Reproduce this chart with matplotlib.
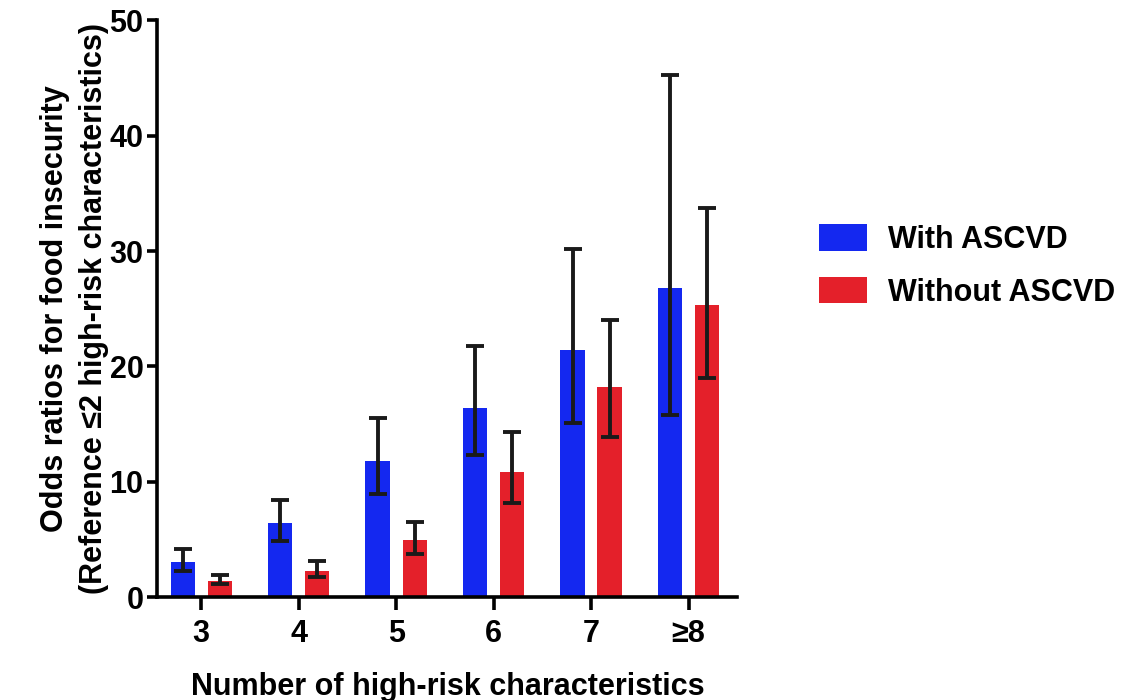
import matplotlib
matplotlib.use('Agg')
import matplotlib.pyplot as plt
import numpy as np

plt.rcParams['font.family'] = ['Liberation Sans', 'DejaVu Sans']
plt.rcParams['font.weight'] = 'bold'

# Data
categories = ['3', '4', '5', '6', '7', '≥8']
with_or = [3.05, 6.4, 11.8, 16.4, 21.4, 26.8]
with_lo = [2.3, 4.9, 8.9, 12.3, 15.1, 15.8]
with_hi = [4.2, 8.45, 15.5, 21.8, 30.2, 45.3]
without_or = [1.4, 2.3, 4.95, 10.85, 18.2, 25.3]
without_lo = [1.1, 1.75, 3.75, 8.2, 13.85, 19.0]
without_hi = [1.95, 3.1, 6.5, 14.35, 24.0, 33.7]

BLUE = '#1428f0'
RED = '#e4202a'
INK = '#1a1a1a'

fig = plt.figure(figsize=(11.24, 7), dpi=100)
ax = fig.add_axes([0.14, 0.147, 0.516, 0.824])

x = np.arange(len(categories))
w = 0.25
off = 0.19

def err(v, lo, hi):
    v, lo, hi = map(np.array, (v, lo, hi))
    return [v - lo, hi - v]

ax.bar(x - off, with_or, w, color=BLUE, label='With ASCVD', zorder=2)
ax.bar(x + off, without_or, w, color=RED, label='Without ASCVD', zorder=2)
ax.errorbar(x - off, with_or, yerr=err(with_or, with_lo, with_hi), fmt='none',
            ecolor=INK, elinewidth=2.8, capsize=6.5, capthick=2.8, zorder=3)
ax.errorbar(x + off, without_or, yerr=err(without_or, without_lo, without_hi), fmt='none',
            ecolor=INK, elinewidth=2.8, capsize=6.5, capthick=2.8, zorder=3)

ax.set_xlim(-0.45, 5.5)
ax.set_ylim(0, 50)
ax.set_yticks([0, 10, 20, 30, 40, 50])
ax.set_xticks(x)
ax.set_xticklabels(categories)

for s in ['top', 'right']:
    ax.spines[s].set_visible(False)
for s in ['left', 'bottom']:
    ax.spines[s].set_linewidth(2.6)
    ax.spines[s].set_color('black')

ax.tick_params(axis='both', width=2.6, labelsize=22, colors='black')
ax.tick_params(axis='x', length=9, pad=7)
ax.tick_params(axis='y', length=7, pad=3)
for lab in ax.get_xticklabels() + ax.get_yticklabels():
    lab.set_fontweight('bold')

ax.set_ylabel('Odds ratios for food insecurity\n(Reference ≤2 high-risk characteristics)',
              fontsize=22, fontweight='bold', labelpad=0, linespacing=1.4)
ax.set_xlabel('Number of high-risk characteristics', fontsize=22, fontweight='bold', labelpad=16)

fig.legend(loc='upper left', bbox_to_anchor=(0.718, 0.697), frameon=False,
           prop={'size': 22, 'weight': 'bold'}, handlelength=1.55, handleheight=0.95,
           handletextpad=0.7, labelspacing=0.72, borderaxespad=0.0)

fig.savefig('out.png', dpi=100)
